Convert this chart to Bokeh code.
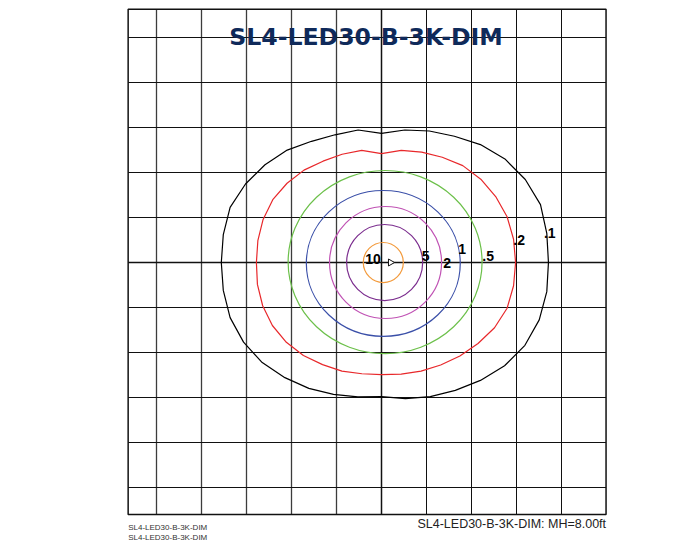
import numpy as np
from bokeh.plotting import figure
from bokeh.models import Range1d
from bokeh.core.properties import value
from bokeh.embed import file_html
from bokeh.resources import INLINE

# ---------------- data ----------------
title_text = "SL4-LED30-B-3K-DIM"
footer_right = "SL4-LED30-B-3K-DIM: MH=8.00ft"
footer_left = ["SL4-LED30-B-3K-DIM", "SL4-LED30-B-3K-DIM"]

# grid (one unit = one grid cell), luminaire at (0, 0)
x_grid = [-5, -4, -3, -2, -1, 0, 1, 2, 3, 4]
y_grid = [-5, -4, -3, -2, -1, 0, 1, 2, 3, 4, 5]
box_x = [-5.63, 4.99]
box_y = [-5.60, 5.63]

# inner isolux contours (nearly elliptical)
ell_levels = ["10", "5", "2", "1", ".5"]
ell_cx = [0.04, 0.07, 0.09, 0.04, 0.08]
ell_cy = [0.00, 0.00, 0.00, -0.02, 0.01]
ell_w = [0.89, 1.69, 2.49, 3.42, 4.31]
ell_h = [0.89, 1.69, 2.49, 3.24, 4.07]
ell_colors = ["#f39a3b", "#7b2d8e", "#c052b4", "#3a4fa8", "#6cc04a"]

# outer isolux contours (.2 and .1), radius in cells every 10 degrees
angles_deg = list(range(0, 360, 10))
r_02 = [2.98, 2.98, 2.97, 2.93, 2.88, 2.81, 2.70, 2.61, 2.53, 2.42, 2.53, 2.56,
        2.60, 2.68, 2.74, 2.79, 2.80, 2.79, 2.78, 2.80, 2.81, 2.80, 2.76, 2.70,
        2.62, 2.57, 2.51, 2.49, 2.52, 2.57, 2.63, 2.71, 2.80, 2.90, 2.97, 2.98]
r_01 = [3.71, 3.73, 3.76, 3.69, 3.58, 3.42, 3.24, 3.11, 2.99, 2.87, 2.99, 3.02,
        3.11, 3.26, 3.38, 3.49, 3.58, 3.57, 3.56, 3.57, 3.58, 3.54, 3.46, 3.34,
        3.23, 3.12, 3.03, 2.98, 3.07, 3.17, 3.28, 3.42, 3.57, 3.68, 3.73, 3.73]
outer_colors = ["#e8282b", "#000000"]

# contour value labels
lab_text = ["10", "5", "2", "1", ".5", ".2", ".1"]
lab_x = [-0.19, 0.98, 1.46, 1.79, 2.37, 3.06, 3.74]
lab_y = [0.07, 0.14, -0.01, 0.31, 0.14, 0.50, 0.66]

# ---------------- layout constants (pixels) ----------------
W, H = 686, 544
PX = 45.0              # pixels per grid cell
CX, CY = 381.0, 262.0  # canvas position of the luminaire

p = figure(width=W, height=H, output_backend="svg", toolbar_location=None,
           x_range=Range1d(-CX / PX, (W - CX) / PX),
           y_range=Range1d((CY - H) / PX, CY / PX),
           x_axis_location=None, y_axis_location=None,
           min_border=0, min_border_left=0, min_border_right=0,
           min_border_top=0, min_border_bottom=0)
p.grid.visible = False
p.outline_line_color = None
p.background_fill_color = "white"
p.border_fill_color = "white"

# grid lines
vcol = ["#3c3c3c" if g < 0 else "#111111" for g in x_grid]
vwid = [1.3 if g < 0 else (1.5 if g == 0 else 1) for g in x_grid]
p.segment(x0=x_grid, y0=[box_y[0]] * len(x_grid), x1=x_grid, y1=[box_y[1]] * len(x_grid),
          line_color=vcol, line_width=vwid)
p.segment(x0=[box_x[0]] * len(y_grid), y0=y_grid, x1=[box_x[1]] * len(y_grid), y1=y_grid,
          line_color="#111111", line_width=[1.5 if g == 0 else 1 for g in y_grid])
# border box
p.quad(left=[box_x[0]], right=[box_x[1]], bottom=[box_y[0]], top=[box_y[1]],
       fill_color=None, line_color="#111111", line_width=1.5)

# contours
p.ellipse(x=ell_cx, y=ell_cy, width=ell_w, height=ell_h,
          fill_color=None, line_color=ell_colors, line_width=1.2)
th = np.deg2rad(np.array(angles_deg + [angles_deg[0]]))
for rr, col in zip([r_02, r_01], outer_colors):
    r = np.array(rr + [rr[0]])
    p.line(r * np.cos(th), r * np.sin(th), line_color=col, line_width=1.2)

# luminaire orientation arrow
p.scatter(x=[0.2], y=[0.0], marker="triangle", size=7, angle=-np.pi / 2,
          fill_color="white", line_color="#111111", line_width=1)

p.text(x=lab_x, y=lab_y, text=lab_text, text_font=value("Liberation Sans"),
       text_font_style="bold", text_font_size="14px", text_color="#000000",
       text_align="center", text_baseline="middle")

# title
p.text(x=[-0.344], y=[5.007], text=[title_text], text_font=value("DejaVu Sans"),
       text_font_style="bold", text_font_size="23.6px", text_color="#0f2a5a",
       text_align="center", text_baseline="middle")

# footers
p.text(x=[box_x[1]], y=[(CY - 523) / PX], text=[footer_right],
       text_font=value("Liberation Sans"), text_font_size="12.5px",
       text_color="#222222", text_align="right", text_baseline="middle")
p.text(x=[box_x[0]] * 2, y=[(CY - 526.5) / PX, (CY - 537) / PX], text=footer_left,
       text_font=value("Liberation Sans"), text_font_size="8px",
       text_color="#333333", text_align="left", text_baseline="middle")

open("out.html", "w").write(file_html(p, INLINE))
